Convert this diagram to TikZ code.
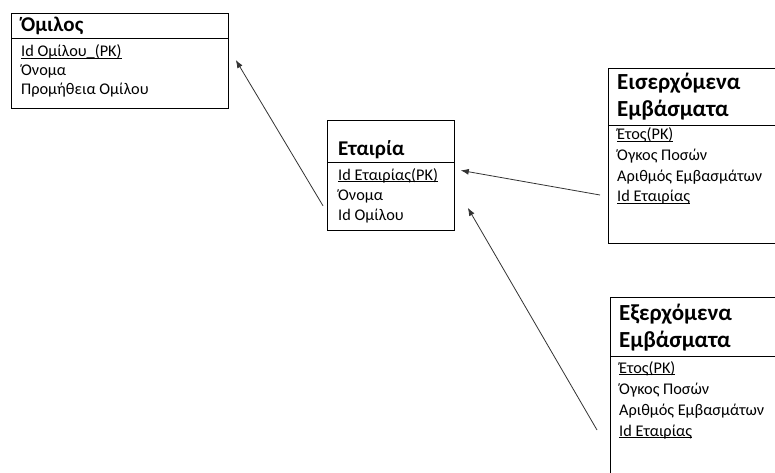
\documentclass[tikz,border=0pt]{standalone}
\usepackage{fontspec}
\setmainfont{Carlito}
\usetikzlibrary{arrows.meta,positioning}
\newcommand{\pkline}[1]{\setbox0\hbox{#1}\rlap{\rule[-2pt]{\wd0}{0.6pt}}\box0}

\begin{document}
\begin{tikzpicture}[x=1pt,y=-1pt,>={Latex[length=8pt,width=6pt]},
  tbl/.style={draw,line width=0.8pt,anchor=north west,inner sep=0pt},
  ttl/.style={font=\fontsize{21}{25}\selectfont\bfseries,anchor=base west,inner sep=0pt},
  bigttl/.style={ttl,font=\fontsize{23}{27}\selectfont\bfseries},
  fld/.style={font=\fontsize{16.3}{19}\selectfont,anchor=base west,inner sep=0pt},
  lnk/.style={->,draw=black!80,line width=0.8pt}]
\useasboundingbox (0,0) rectangle (775,473);
\clip (0,0) rectangle (775,473);

% Όμιλος
\node[tbl,minimum width=217pt,minimum height=95pt] (omilos) at (11,13) {};
\node[ttl] (omilos-t) at (21,32) {Όμιλος};
\draw[line width=0.8pt] ([yshift=-25pt]omilos.north west) -- ([yshift=-25pt]omilos.north east);
\node[fld] (omilos-1) at (21,57) {\pkline{Id Ομίλου\_(PK)}};
\node[fld,below=19pt of omilos-1.base west,anchor=base west] (omilos-2) {Όνομα};
\node[fld,below=19pt of omilos-2.base west,anchor=base west] (omilos-3) {Προμήθεια Ομίλου};

% Εταιρία
\node[tbl,minimum width=127pt,minimum height=110pt] (etairia) at (327,120) {};
\node[ttl] (etairia-t) at (338,155) {Εταιρία};
\draw[line width=0.8pt] ([yshift=-42pt]etairia.north west) -- ([yshift=-42pt]etairia.north east);
\node[fld] (etairia-1) at (338,180) {\pkline{Id Εταιρίας(PK)}};
\node[fld,below=20pt of etairia-1.base west,anchor=base west] (etairia-2) {Όνομα};
\node[fld,below=20pt of etairia-2.base west,anchor=base west] (etairia-3) {Id Ομίλου};

% Εισερχόμενα Εμβάσματα
\node[tbl,minimum width=200pt,minimum height=175pt] (eis) at (608,68) {};
\node[bigttl] (eis-t1) at (617,90) {Εισερχόμενα};
\node[bigttl,below=27pt of eis-t1.base west,anchor=base west] (eis-t2) {Εμβάσματα};
\draw[line width=0.8pt] ([yshift=-57pt]eis.north west) -- ([yshift=-57pt]eis.north east);
\node[fld] (eis-1) at (617,140) {\pkline{Έτος(PK)}};
\node[fld,below=20.5pt of eis-1.base west,anchor=base west] (eis-2) {Όγκος Ποσών};
\node[fld,below=20.5pt of eis-2.base west,anchor=base west] (eis-3) {Αριθμός Εμβασμάτων};
\node[fld,below=20.5pt of eis-3.base west,anchor=base west] (eis-4) {\pkline{Id Εταιρίας}};

% Εξερχόμενα Εμβάσματα
\node[tbl,minimum width=200pt,minimum height=200pt] (exer) at (610,297) {};
\node[bigttl] (exer-t1) at (619,320) {Εξερχόμενα};
\node[bigttl,below=27pt of exer-t1.base west,anchor=base west] (exer-t2) {Εμβάσματα};
\draw[line width=0.8pt] ([yshift=-59pt]exer.north west) -- ([yshift=-59pt]exer.north east);
\node[fld] (exer-1) at (619,373) {\pkline{Έτος(PK)}};
\node[fld,below=21pt of exer-1.base west,anchor=base west] (exer-2) {Όγκος Ποσών};
\node[fld,below=21pt of exer-2.base west,anchor=base west] (exer-3) {Αριθμός Εμβασμάτων};
\node[fld,below=21pt of exer-3.base west,anchor=base west] (exer-4) {\pkline{Id Εταιρίας}};

% συνδέσεις
\draw[lnk] ([xshift=-4pt,yshift=25pt]etairia.south west) -- ([xshift=7pt,yshift=-47pt]omilos.north east);
\draw[lnk] ([xshift=-8pt,yshift=-127pt]eis.north west) -- ([xshift=6pt,yshift=5pt]etairia.east);
\draw[lnk] ([xshift=-13pt,yshift=-133pt]exer.north west) -- ([xshift=13pt,yshift=23pt]etairia.south east);
\end{tikzpicture}
\end{document}
